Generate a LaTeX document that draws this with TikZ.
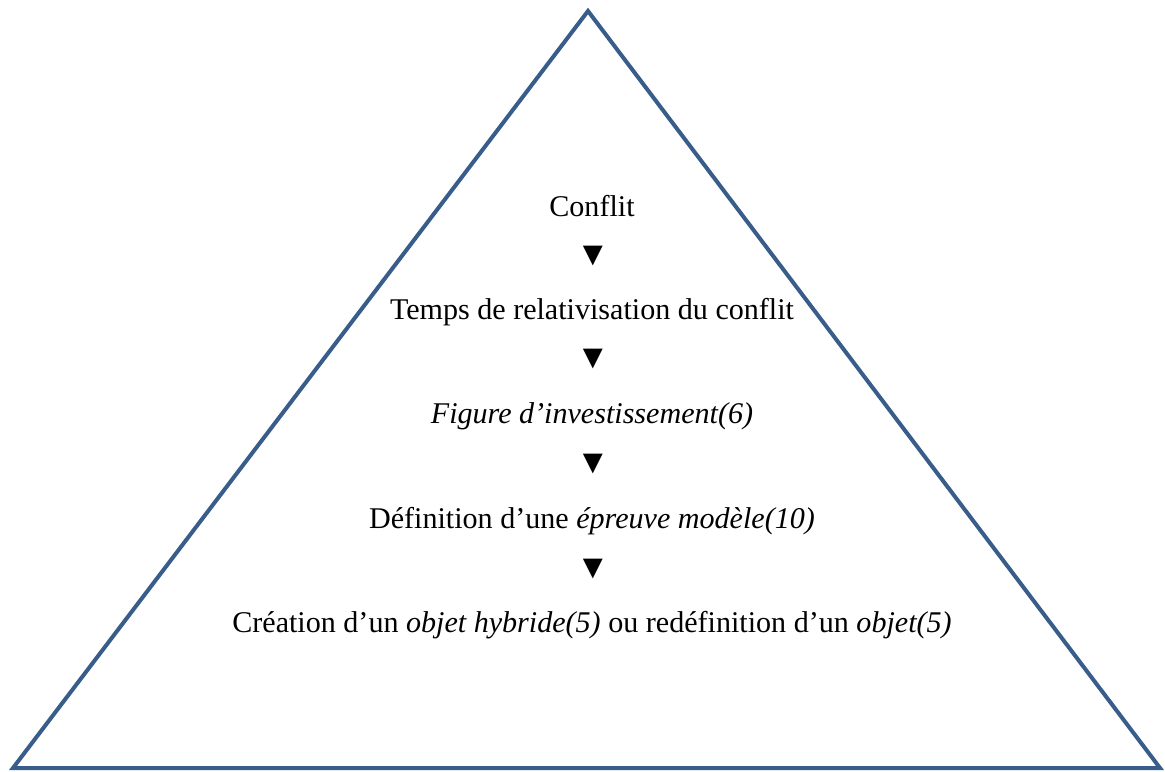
\documentclass[tikz,border=0pt]{standalone}
\usepackage{fontspec}
\setmainfont{Liberation Serif}
\definecolor{pyramidblue}{HTML}{385D8A}
\begin{document}
\begin{tikzpicture}[x=1bp,y=-1bp,
  steptext/.style={font=\fontsize{30.2}{34}\selectfont, inner sep=0pt, anchor=base},
  downmark/.style={font=\fontsize{34}{38}\selectfont, inner sep=0pt}]
\useasboundingbox (0,0) rectangle (1165,772);
% outer pyramid
\coordinate (apex) at (588,11);
\coordinate (left) at (13,768);
\coordinate (right) at (1160,768);
\draw[pyramidblue, line width=4bp, line join=miter] (apex) -- (left) -- (right) -- cycle;
% the chain of stages
\node[steptext] (s1) at (592,216) {Conflit};
\node[downmark] (a1) at (593,256) {▼};
\node[steptext] (s2) at (592,319) {Temps de relativisation du conflit};
\node[downmark] (a2) at (593,359) {▼};
\node[steptext] (s3) at (592,423) {\textit{Figure d’investissement(6)}};
\node[downmark] (a3) at (593,464) {▼};
\node[steptext] (s4) at (592,528) {Définition d’une \textit{épreuve modèle(10)}};
\node[downmark] (a4) at (593,569) {▼};
\node[steptext] (s5) at (592,632) {Création d’un \textit{objet hybride(5)} ou redéfinition d’un \textit{objet(5)}};
\end{tikzpicture}
\end{document}
